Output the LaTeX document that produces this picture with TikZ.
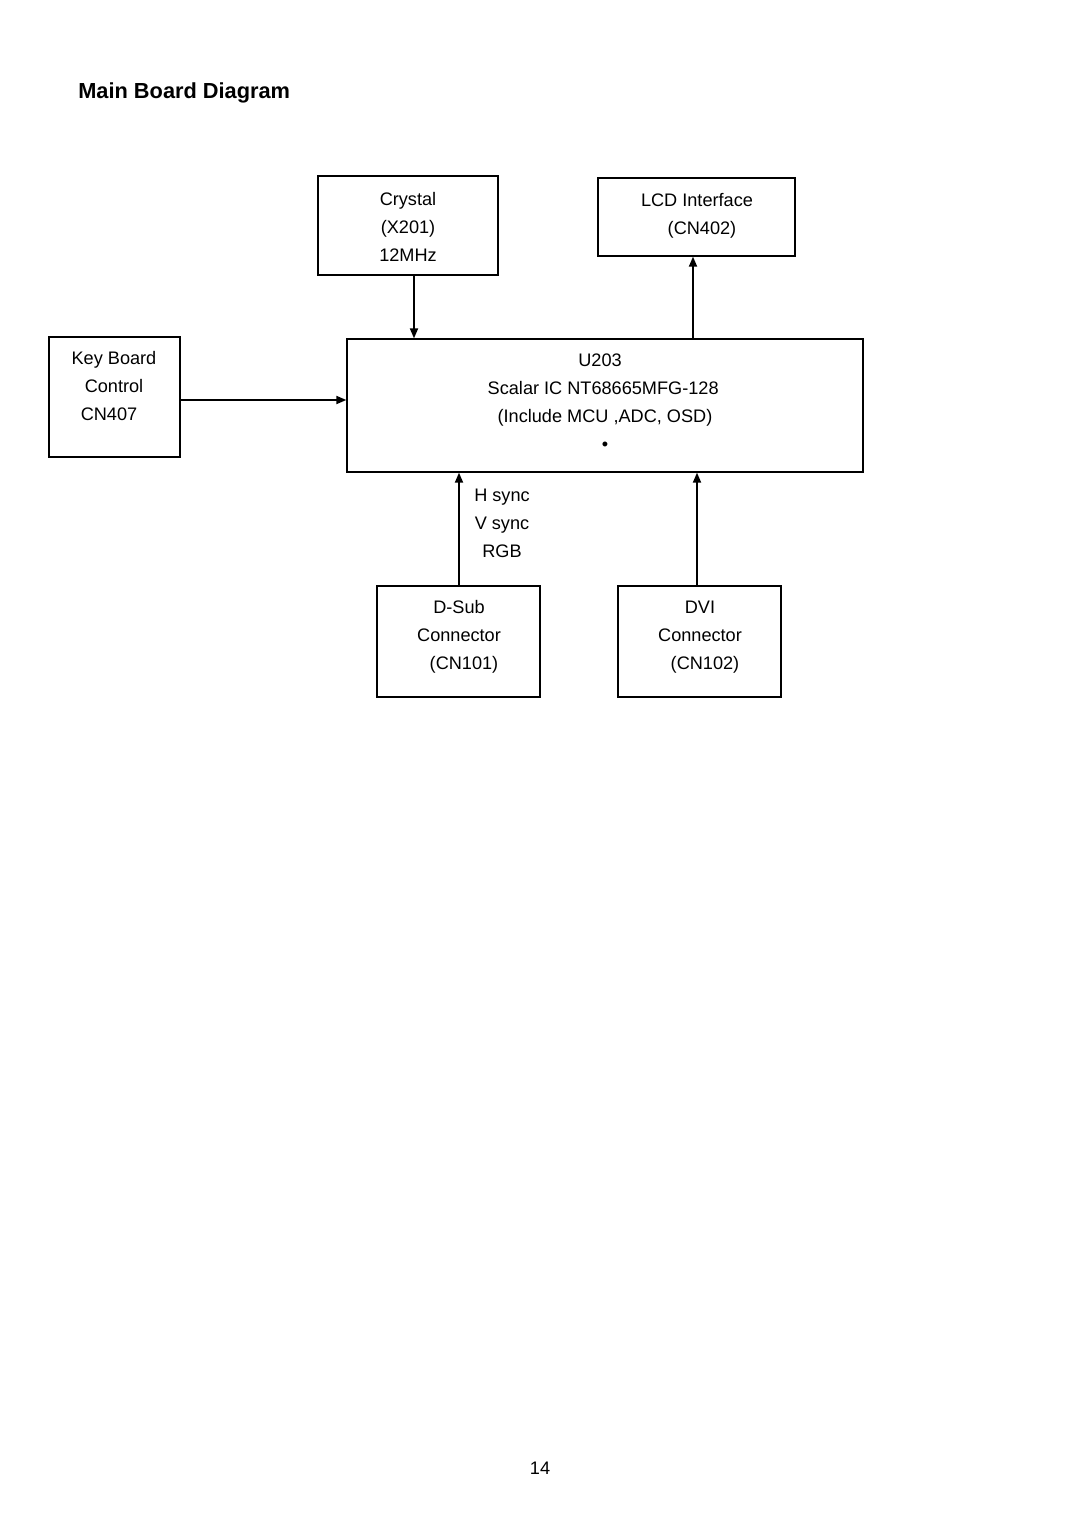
\documentclass[tikz,border=0pt]{standalone}
\usepackage{fontspec}
\setmainfont{Liberation Sans}
\usetikzlibrary{arrows.meta}
\usetikzlibrary{calc}
\usetikzlibrary{positioning}

\begin{document}
\begin{tikzpicture}
  [
    x = 0.5512pt, y = -0.5512pt,
    size/.style 2 args = {minimum width = #1*0.5512pt, minimum height = #2*0.5512pt},
    block/.style = {draw, line width = 0.8pt, rectangle, inner sep = 0pt},
    txt/.style = {align = center, inner sep = 0pt,
                  font = \fontsize{10}{15.43}\selectfont},
    arrow/.style = {-{Triangle[length = 5.5pt, width = 4.5pt]}, line width = 0.8pt},
  ]

  \useasboundingbox (0,0) rectangle (1080,1528);

  \node[anchor = west, inner sep = 0pt, font = \bfseries\fontsize{12}{14}\selectfont] (title) at (78,93) {Main Board Diagram};

  % boxes
  \node[block, size = {180}{99}] (crystal) at (408,225.5) {};
  \node[block, size = {197}{78}] (lcd) at (696.5,217) {};
  \node[block, size = {131}{120}] (kb) at (114.5,397) {};
  \node[block, size = {516}{133}] (u203) at (605,405.5) {};
  \node[block, size = {163}{111}] (dsub) at (458.5,641.5) {};
  \node[block, size = {163}{111}] (dvi) at (699.5,641.5) {};

  % texts
  \node[txt] (crystal_txt) at (408,227) {Crystal\\(X201)\\12MHz};
  \node[txt] (lcd_txt) at (697,215.5) {LCD Interface\\\hspace*{5.5pt}(CN402)};
  \node[txt] (kb_txt) at (114,386.5) {Key Board\\Control\\\hspace*{-5.5pt}CN407};
  \node[txt] (u203_txt) at (605,402.5) {\hspace*{-5.5pt}U203\\\hspace*{-2pt}Scalar IC NT68665MFG-128\\(Include MCU ,ADC, OSD)\\\textbullet};
  \node[txt] (dsub_txt) at (459,637) {D-Sub\\Connector\\\hspace*{5.5pt}(CN101)};
  \node[txt] (dvi_txt) at (700,637) {DVI\\Connector\\\hspace*{5.5pt}(CN102)};
  \node[txt] (signals) at (502,523) {H sync\\V sync\\RGB};

  % connections
  \draw[arrow] ([xshift = 6*0.5512pt]crystal.south) -- ([xshift = 6*0.5512pt]crystal.south |- u203.north);
  \draw[arrow] ([xshift = -3.5*0.5512pt]lcd.south |- u203.north) -- ([xshift = -3.5*0.5512pt]lcd.south);
  \draw[arrow] ([yshift = -3*0.5512pt]kb.east) -- ([yshift = -3*0.5512pt]kb.east -| u203.west);
  \draw[arrow] ([xshift = 0.5*0.5512pt]dsub.north) -- ([xshift = 0.5*0.5512pt]dsub.north |- u203.south);
  \draw[arrow] ([xshift = -2.5*0.5512pt]dvi.north) -- ([xshift = -2.5*0.5512pt]dvi.north |- u203.south);

  \node[txt] (page) at (540,1468) {14};
\end{tikzpicture}
\end{document}
